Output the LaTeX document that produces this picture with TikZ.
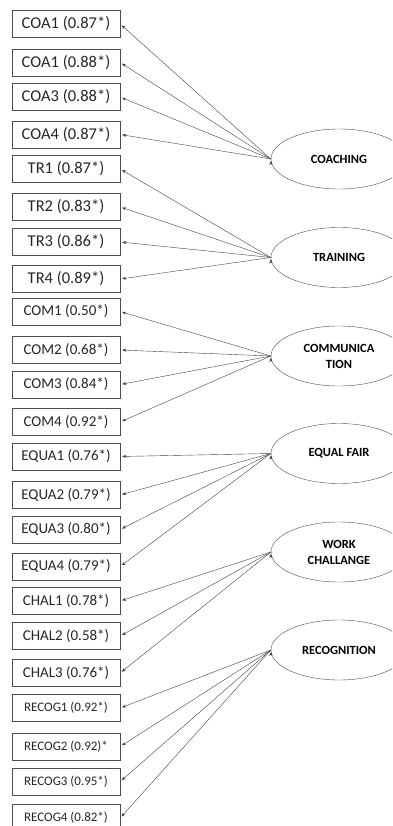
\documentclass[tikz,border=0pt]{standalone}
\usepackage{fontspec}
\setmainfont{Carlito}
\usetikzlibrary{arrows.meta,shapes.geometric}
\begin{document}
\begin{tikzpicture}[x=1pt,y=-1pt]
\tikzstyle{item}=[draw=black!70,minimum width=108pt,minimum height=27pt,inner sep=0pt,text=black!85,font=\fontsize{16.5}{18}\selectfont];
\tikzstyle{mitem}=[item,font=\fontsize{15}{17}\selectfont];
\tikzstyle{sitem}=[item,font=\fontsize{13}{15}\selectfont];
\tikzstyle{factor}=[ellipse,draw=black!70,minimum width=136pt,minimum height=60pt,inner sep=0pt,align=center,font=\bfseries\fontsize{12.5}{16}\selectfont];
\tikzstyle{load}=[-{Stealth[length=4pt,width=3pt]},draw=black!75,shorten >=2pt];
\useasboundingbox (0,0) rectangle (392,826);
\clip (0,0) rectangle (392,826);

\node (coa1) [item] at (66,24) {COA1 (0.87*)};
\node (coa2) [item] at (66,62.5) {COA1 (0.88*)};
\node (coa3) [item] at (66,97) {COA3 (0.88*)};
\node (coa4) [item] at (66,134.5) {COA4 (0.87*)};
\node (tr1) [item] at (66,169) {TR1 (0.87*)};
\node (tr2) [item] at (66,207) {TR2 (0.83*)};
\node (tr3) [item] at (66,242) {TR3 (0.86*)};
\node (tr4) [item] at (66,279) {TR4 (0.89*)};
\node (com1) [mitem] at (66,311.5) {COM1 (0.50*)};
\node (com2) [mitem] at (66,350) {COM2 (0.68*)};
\node (com3) [mitem] at (66,384.5) {COM3 (0.84*)};
\node (com4) [mitem] at (66,422) {COM4 (0.92*)};
\node (equa1) [mitem] at (66,456.5) {EQUA1 (0.76*)};
\node (equa2) [mitem] at (66,495) {EQUA2 (0.79*)};
\node (equa3) [mitem] at (66,529.5) {EQUA3 (0.80*)};
\node (equa4) [mitem] at (66,566.5) {EQUA4 (0.79*)};
\node (chal1) [mitem] at (66,601) {CHAL1 (0.78*)};
\node (chal2) [mitem] at (66,636) {CHAL2 (0.58*)};
\node (chal3) [mitem] at (66,673) {CHAL3 (0.76*)};
\node (recog1) [sitem] at (66,708) {RECOG1 (0.92*)};
\node (recog2) [sitem] at (66,746.5) {RECOG2 (0.92)*};
\node (recog3) [sitem] at (66,781.5) {RECOG3 (0.95*)};
\node (recog4) [sitem] at (66,818) {RECOG4 (0.82*)};

\node (coach) [factor] at (339,159) {COACHING};
\node (train) [factor] at (339,257.5) {TRAINING};
\node (comm) [factor] at (339,356) {COMMUNICA\\TION};
\node (fair) [factor] at (339,453.5) {EQUAL FAIR};
\node (work) [factor] at (339,552) {WORK\\CHALLANGE};
\node (recog) [factor] at (339,650) {RECOGNITION};

\draw [load] (coach.west) edge (coa1.east) edge (coa2.east) edge (coa3.east) edge (coa4.east);
\draw [load] (train.west) edge (tr1.east) edge (tr2.east) edge (tr3.east) edge (tr4.east);
\draw [load] (comm.west) edge (com1.east) edge (com2.east) edge (com3.east) edge (com4.east);
\draw [load] (fair.west) edge (equa1.east) edge (equa2.east) edge (equa3.east) edge (equa4.east);
\draw [load] (work.west) edge (chal1.east) edge (chal2.east) edge (chal3.east);
\draw [load] (recog.west) edge (recog1.east) edge (recog2.east) edge (recog3.east) edge (recog4.east);
\end{tikzpicture}
\end{document}
